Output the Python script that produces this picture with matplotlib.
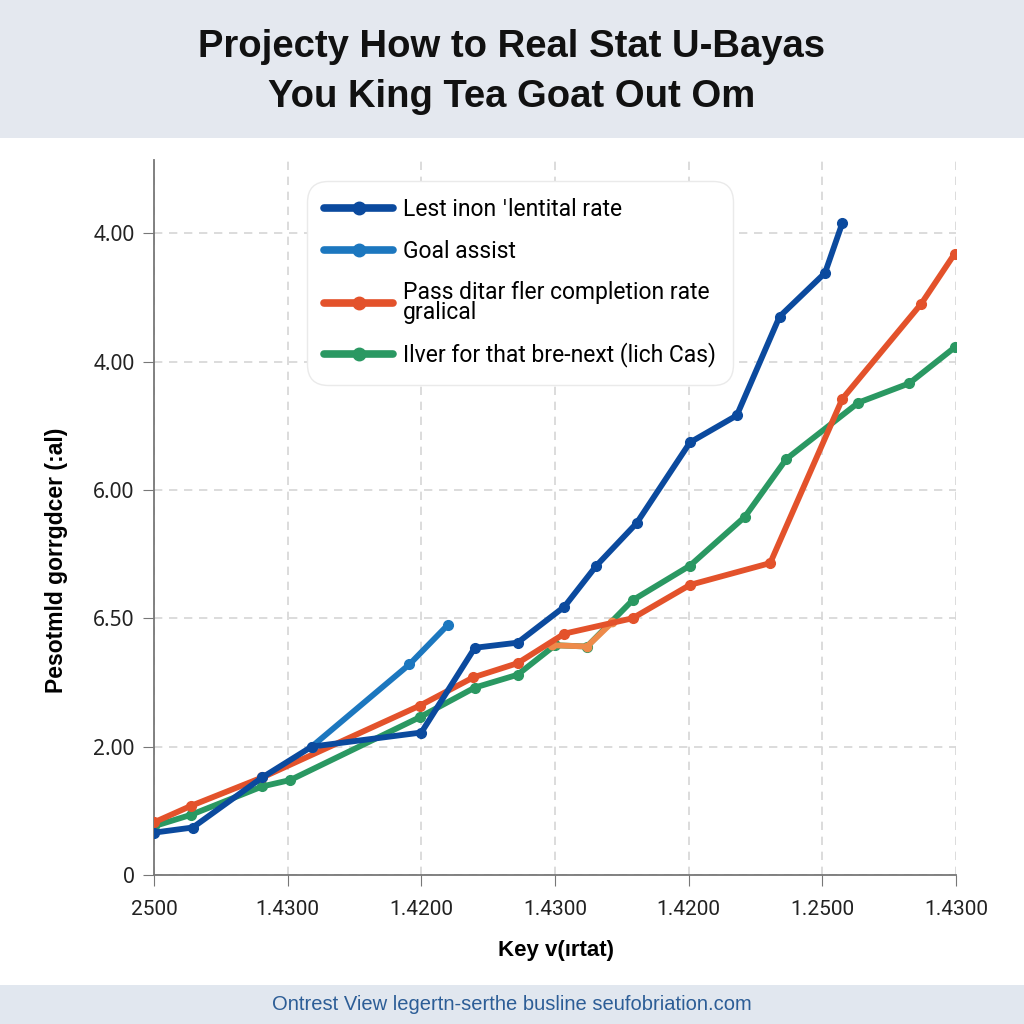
import matplotlib
matplotlib.use("Agg")
import matplotlib.pyplot as plt
from matplotlib.patches import Rectangle

# tick labels as printed on the chart
x_labels = ["2500", "1.4300", "1.4200", "1.4300", "1.4200", "1.2500", "1.4300"]
y_labels = ["0", "2.00", "6.50", "6.00", "4.00", "4.00"]

# series (x in tick steps, y in grid steps)
lest_x = [0.0, 0.29, 0.81, 1.18, 2.00, 2.40, 2.72, 3.07, 3.31, 3.61, 4.01, 4.36, 4.68, 5.02, 5.15]
lest_y = [0.33, 0.37, 0.76, 1.00, 1.11, 1.77, 1.81, 2.09, 2.41, 2.74, 3.37, 3.58, 4.35, 4.69, 5.08]

goal_x = [1.18, 1.91, 2.20]
goal_y = [1.00, 1.64, 1.95]

pass_x = [0.0, 0.28, 0.81, 1.99, 2.39, 2.72, 3.07, 3.58, 4.01, 4.61, 5.15, 5.74, 5.99]
pass_y = [0.41, 0.54, 0.76, 1.32, 1.54, 1.65, 1.88, 2.00, 2.26, 2.43, 3.71, 4.45, 4.84]

lver_x = [0.0, 0.28, 0.81, 1.02, 1.99, 2.40, 2.72, 3.00, 3.24, 3.58, 4.01, 4.42, 4.73, 5.27, 5.65, 5.99]
lver_y = [0.38, 0.47, 0.69, 0.74, 1.23, 1.46, 1.56, 1.79, 1.78, 2.14, 2.41, 2.79, 3.24, 3.68, 3.83, 4.11]

# short light-orange stretch that sits on the green line
ghost_x = [2.98, 3.24, 3.43]
ghost_y = [1.79, 1.78, 1.97]

labels = ["Lest inon \u02c8lentital rate", "Goal assist",
          "Pass ditar fler completion rate\ngralical", "Ilver for that bre-next (lich Cas)"]
colors = ["#0B4A9E", "#1C77BF", "#E3522B", "#2A9862"]

fig = plt.figure(figsize=(10.24, 10.24), dpi=100)
fig.patch.set_facecolor("white")

# header and footer bands
fig.add_artist(Rectangle((0, 1 - 138 / 1024), 1, 138 / 1024, transform=fig.transFigure,
                         facecolor="#E4E8EF", edgecolor="none", zorder=0))
fig.add_artist(Rectangle((0, 0), 1, 39 / 1024, transform=fig.transFigure,
                         facecolor="#E1E7EF", edgecolor="none", zorder=0))

fig.text(0.5, 1 - 47 / 1024, "Projecty How to Real Stat U-Bayas", ha="center", va="center",
         fontsize=27.5, fontweight="bold", family="Liberation Sans", color="#111111")
fig.text(0.5, 1 - 97 / 1024, "You King Tea Goat Out Om", ha="center", va="center",
         fontsize=27.5, fontweight="bold", family="Liberation Sans", color="#111111")

ax = fig.add_axes([154 / 1024, 1 - 875 / 1024, (956 - 154) / 1024, (875 - 160) / 1024])
ax.set_facecolor("white")

series = [(lest_x, lest_y), (goal_x, goal_y), (pass_x, pass_y), (lver_x, lver_y)]
zorders = [7, 6, 5, 4]
handles = []
for i, (xs, ys) in enumerate(series):
    h, = ax.plot(xs, ys, color=colors[i], linewidth=4.2, marker="o", markersize=7,
                 solid_capstyle="round", solid_joinstyle="round", label=labels[i], zorder=zorders[i])
    handles.append(h)
ax.plot(ghost_x, ghost_y, color="#EE8A4A", linewidth=4.2, marker="o", markersize=6,
        solid_capstyle="round", solid_joinstyle="round", zorder=4.5)

ax.set_xlim(0, 6)
ax.set_ylim(0, 5.57)
ax.set_xticks(range(len(x_labels)))
ax.set_xticklabels(x_labels, family="Roboto", fontsize=15)
ax.set_yticks(range(len(y_labels)))
ax.set_yticklabels(y_labels, family="Noto Sans", fontsize=15)
ax.tick_params(axis="both", length=8, color="#777777", labelcolor="#222222", pad=6)
ax.tick_params(axis="x", pad=10)

ax.grid(True, linestyle=(0, (5, 4)), color="#D6D6D6", linewidth=1.2)
ax.set_axisbelow(True)
for s in ["top", "right"]:
    ax.spines[s].set_visible(False)
for s in ["left", "bottom"]:
    ax.spines[s].set_color("#777777")
    ax.spines[s].set_linewidth(1.3)

ax.set_xlabel("Key v(\u0131rtat)", fontsize=16, fontweight="bold", family="Liberation Sans")
ax.xaxis.set_label_coords((556 - 154) / 802, -(940 - 875) / 715)
ax.set_ylabel("Pesotmld gorrgdcer (:al)", fontsize=16.5, fontweight="bold", family="Liberation Sans")
ax.yaxis.set_label_coords(-(154 - 68) / 802, (875 - 560) / 715)

leg = ax.legend(handles=handles, loc="upper left", bbox_to_anchor=(307 / 1024, 1 - 181 / 1024),
                bbox_transform=fig.transFigure, prop={"family": ["Roboto", "DejaVu Sans"], "size": 16.5},
                numpoints=1, handlelength=3.0, handletextpad=0.45, labelspacing=0.8,
                borderpad=0.75, borderaxespad=0, frameon=True, fancybox=True, framealpha=1)
leg.get_frame().set_edgecolor("#EAEAEA")
leg.get_frame().set_linewidth(1.0)
leg.get_frame().set_boxstyle("round", pad=0, rounding_size=0.9)
leg.set_zorder(10)
for t in leg.get_texts():
    t.set_linespacing(0.85)
for h in leg.legend_handles:
    h.set_linewidth(5.5)
    h.set_markersize(9)

fig.text(0.5, 1 - 1005 / 1024, "Ontrest View legertn-serthe busline seufobriation.com",
         ha="center", va="center", fontsize=14.5, color="#2C5D96", family="Liberation Sans")

fig.savefig("out.png", dpi=100)
